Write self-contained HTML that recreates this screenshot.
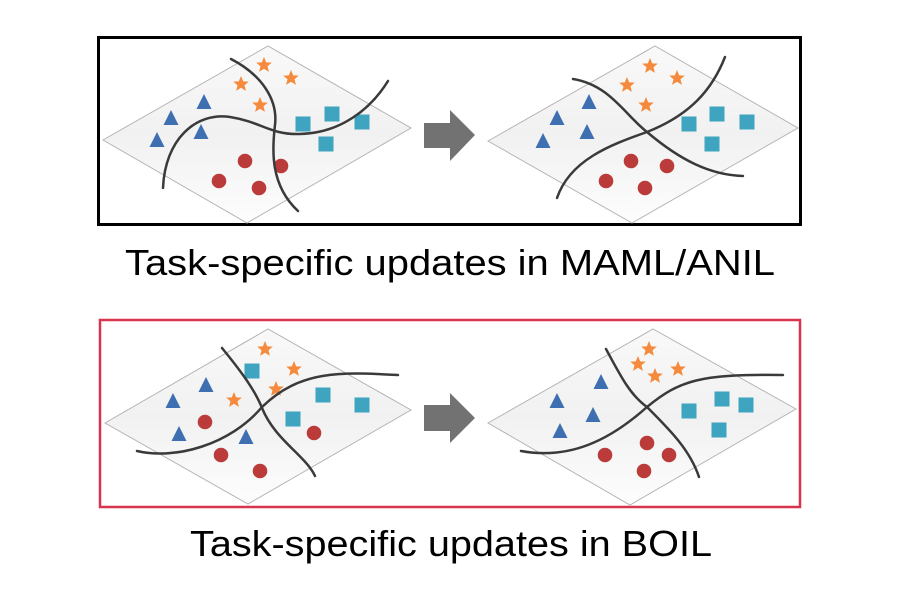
<!DOCTYPE html>
<html><head><meta charset="utf-8"><style>html,body{margin:0;padding:0;background:#fff}svg{display:block}</style></head>
<body>
<svg width="900" height="600" viewBox="0 0 900 600" xmlns="http://www.w3.org/2000/svg">
<defs>
<linearGradient id="g" x1="0" y1="0" x2="0" y2="1"><stop offset="0" stop-color="#f9f9f9"/><stop offset="0.5" stop-color="#f1f1f1"/><stop offset="1" stop-color="#fdfdfd"/></linearGradient>
<path id="st" d="M0,-8 L2.2,-2.6 L7.8,-2.4 L3.5,1.2 L4.9,6.9 L0,3.7 L-4.9,6.9 L-3.5,1.2 L-7.8,-2.4 L-2.2,-2.6Z" fill="#f58a3c"/>
<path id="tr" d="M0,-8 L7.5,7 L-7.5,7Z" fill="#3e6fb1"/>
<rect id="sq" x="-7.5" y="-7.5" width="15" height="15" fill="#3ea4bf"/>
<circle id="ci" r="7.3" fill="#bb3b3b"/>
</defs>
<rect x="98.5" y="37.5" width="702" height="187" fill="none" stroke="#000" stroke-width="3"/>
<rect x="100" y="320" width="700" height="187" fill="none" stroke="#d8344f" stroke-width="2.5"/>
<g stroke="#b5b5b5" stroke-width="1" fill="url(#g)">
<path d="M103,140 L268,46 L411,128 L247,223Z"/>
<path d="M488,141 L655,46 L798,128 L632,223Z"/>
<path d="M105,423 L268,329 L411,410 L248,504Z"/>
<path d="M488,423 L653,329 L796,409 L630,505Z"/>
</g>
<g fill="#727272">
<path d="M424,123 H450 V110 L475,135 L450,161 V148 H424Z"/>
<path d="M424,405 H450 V393 L475,418 L450,443 V431 H424Z"/>
</g>
<use href="#st" x="264" y="65"/><use href="#st" x="291" y="78"/><use href="#st" x="241" y="84"/><use href="#st" x="260" y="105"/>
<use href="#tr" x="204" y="102"/><use href="#tr" x="171" y="118"/><use href="#tr" x="201" y="132"/><use href="#tr" x="157" y="140"/>
<use href="#sq" x="303" y="124"/><use href="#sq" x="332" y="114"/><use href="#sq" x="362" y="122"/><use href="#sq" x="326" y="144"/>
<use href="#ci" x="245" y="161"/><use href="#ci" x="281" y="166"/><use href="#ci" x="219" y="181"/><use href="#ci" x="259" y="188"/>
<use href="#st" x="650" y="66"/><use href="#st" x="677" y="78"/><use href="#st" x="627" y="85"/><use href="#st" x="646" y="105"/>
<use href="#tr" x="589" y="102"/><use href="#tr" x="557" y="118"/><use href="#tr" x="587" y="132"/><use href="#tr" x="543" y="141"/>
<use href="#sq" x="689" y="124"/><use href="#sq" x="717" y="114"/><use href="#sq" x="747" y="122"/><use href="#sq" x="712" y="144"/>
<use href="#ci" x="631" y="161"/><use href="#ci" x="667" y="166"/><use href="#ci" x="606" y="181"/><use href="#ci" x="645" y="188"/>
<use href="#st" x="265" y="349"/><use href="#st" x="294" y="369"/><use href="#st" x="276" y="389"/><use href="#st" x="234" y="400"/>
<use href="#sq" x="252" y="371"/><use href="#sq" x="323" y="395"/><use href="#sq" x="362" y="405"/><use href="#sq" x="293" y="419"/>
<use href="#tr" x="206" y="385"/><use href="#tr" x="173" y="401"/><use href="#tr" x="179" y="434"/><use href="#tr" x="246" y="437"/>
<use href="#ci" x="205" y="422"/><use href="#ci" x="221" y="455"/><use href="#ci" x="260" y="471"/><use href="#ci" x="314" y="433"/>
<use href="#st" x="649" y="349"/><use href="#st" x="638" y="364"/><use href="#st" x="655" y="376"/><use href="#st" x="678" y="369"/>
<use href="#tr" x="601" y="382"/><use href="#tr" x="557" y="401"/><use href="#tr" x="593" y="415"/><use href="#tr" x="560" y="431"/>
<use href="#sq" x="689" y="411"/><use href="#sq" x="722" y="399"/><use href="#sq" x="746" y="405"/><use href="#sq" x="719" y="430"/>
<use href="#ci" x="647" y="443"/><use href="#ci" x="605" y="455"/><use href="#ci" x="669" y="455"/><use href="#ci" x="644" y="471"/>
<g fill="none" stroke="#3a3a3a" stroke-width="2.5" stroke-linecap="round">
<path d="M231,59 C262,75 278,100 275,125 C272,150 270,185 298,211"/>
<path d="M163,188 C165,140 195,112 230,117 C262,122 270,135 300,134 C340,133 370,110 388,81"/>
<path d="M573,79 C610,85 625,115 647,132 C680,160 710,175 743,176"/>
<path d="M557,198 C570,160 610,145 647,132 C690,115 712,90 725,57"/>
<path d="M222,348 C240,370 255,390 262,408 C275,440 305,455 315,476"/>
<path d="M137,451 C175,460 230,445 262,407 C300,370 340,372 398,375"/>
<path d="M606,349 C620,375 630,395 647,407 C670,430 690,450 699,477"/>
<path d="M521,451 C570,460 610,440 647,407 C680,380 700,374 783,375"/>
</g>
<g font-family="Liberation Sans, Arial, sans-serif" font-size="36" fill="#000">
<text x="125" y="275" textLength="650" lengthAdjust="spacingAndGlyphs">Task-specific updates in MAML/ANIL</text>
<text x="190" y="556" textLength="522" lengthAdjust="spacingAndGlyphs">Task-specific updates in BOIL</text>
</g>
</svg>
</body></html>
